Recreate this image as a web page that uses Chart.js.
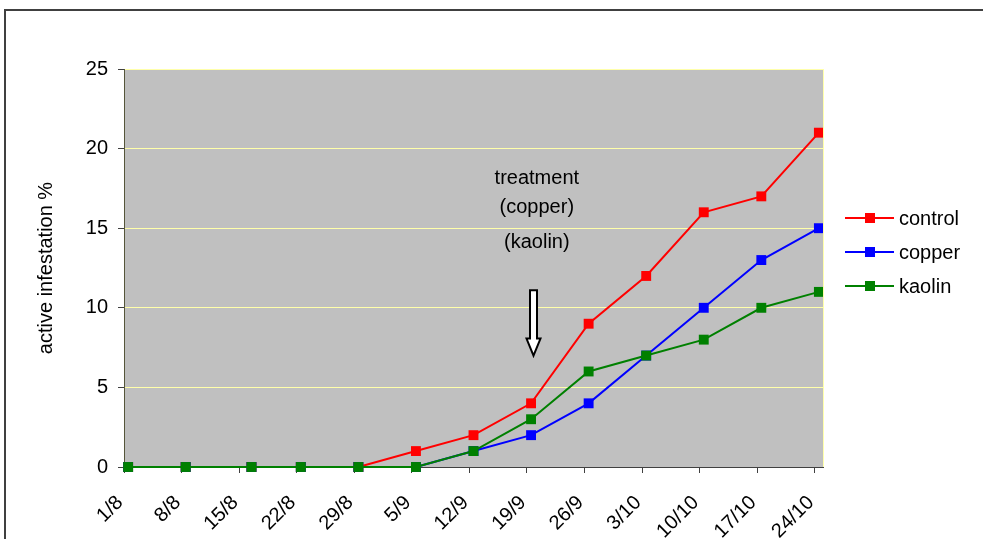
<!DOCTYPE html>
<html>
<head>
<meta charset="utf-8">
<script src="https://cdn.jsdelivr.net/npm/chart.js@4"></script>
<style>
  html, body { margin: 0; padding: 0; background: #fff; overflow: hidden; }
</style>
</head>
<body>
<canvas id="myChart" width="983" height="539"></canvas>
<script>
// weekly sampling dates, days counted from 1/8
var tickDays = [0, 7, 14, 21, 28, 35, 42, 49, 56, 63, 70, 77, 84];
var tickLabels = ['1/8', '8/8', '15/8', '22/8', '29/8', '5/9', '12/9', '19/9', '26/9', '3/10', '10/10', '17/10', '24/10'];
var sampleDays = [0.5, 7.5, 15.5, 21.5, 28.5, 35.5, 42.5, 49.5, 56.5, 63.5, 70.5, 77.5, 84.5];

var control = [0, 0, 0, 0, 0, 1, 2, 4, 9, 12, 16, 17, 21];
var copper  = [0, 0, 0, 0, 0, 0, 1, 2, 4, 7, 10, 13, 15];
var kaolin  = [0, 0, 0, 0, 0, 0, 1, 3, 6, 7, 8, 10, 11];

var seriesNames = ['control', 'copper', 'kaolin'];
var seriesColors = ['rgb(255, 0, 0)', 'rgb(0, 0, 255)', 'rgb(0, 128, 0)'];

// treatment note (x in days, y in %)
var noteLines = [['treatment', 50.2, 18.1], ['(copper)', 50.2, 16.3], ['(kaolin)', 50.2, 14.1]];
var arrowX = 49.7, arrowFrom = 11.1, arrowTo = 7.0;

var fontFamily = '"Liberation Sans", Arial, sans-serif';

function pts(values) {
    return values.map(function (v, i) { return { x: sampleDays[i], y: v }; });
}

const extras = {
    id: 'extras',
    beforeDraw(chart) {
        const ctx = chart.ctx, a = chart.chartArea;
        ctx.save();
        ctx.fillStyle = '#ffffff';
        ctx.fillRect(0, 0, chart.width, chart.height);
        ctx.strokeStyle = '#404040';
        ctx.lineWidth = 2;
        ctx.strokeRect(5, 10, chart.width + 20, chart.height + 20);
        ctx.fillStyle = 'rgb(192, 192, 192)';
        ctx.fillRect(a.left, a.top, a.right - a.left, a.bottom - a.top);
        ctx.restore();
    },
    afterDraw(chart) {
        const ctx = chart.ctx, a = chart.chartArea;
        const xs = chart.scales.x, ys = chart.scales.y;
        ctx.save();
        // right plot border
        ctx.strokeStyle = 'rgb(255, 255, 170)';
        ctx.lineWidth = 1;
        ctx.beginPath();
        ctx.moveTo(a.right + 0.5, a.top);
        ctx.lineTo(a.right + 0.5, a.bottom);
        ctx.stroke();

        // note text
        ctx.fillStyle = '#000';
        ctx.font = '20px ' + fontFamily;
        ctx.textAlign = 'center';
        ctx.textBaseline = 'middle';
        noteLines.forEach(function (n) {
            ctx.fillText(n[0], xs.getPixelForValue(n[1]), ys.getPixelForValue(n[2]));
        });

        // hollow arrow
        const ax = Math.round(xs.getPixelForValue(arrowX)) + 0.5;
        const y0 = ys.getPixelForValue(arrowFrom), y1 = ys.getPixelForValue(arrowTo);
        const hh = 17;
        ctx.beginPath();
        ctx.moveTo(ax - 3.5, y0);
        ctx.lineTo(ax + 3.5, y0);
        ctx.lineTo(ax + 3.5, y1 - hh);
        ctx.lineTo(ax + 7, y1 - hh);
        ctx.lineTo(ax, y1);
        ctx.lineTo(ax - 7, y1 - hh);
        ctx.lineTo(ax - 3.5, y1 - hh);
        ctx.closePath();
        ctx.fillStyle = '#fff';
        ctx.fill();
        ctx.strokeStyle = '#000';
        ctx.lineWidth = 2;
        ctx.stroke();

        // legend
        const lx = 845, ly = 218, step = 34;
        ctx.textAlign = 'left';
        seriesNames.forEach(function (name, i) {
            const y = ly + i * step;
            ctx.strokeStyle = seriesColors[i];
            ctx.lineWidth = 2;
            ctx.beginPath();
            ctx.moveTo(lx, y);
            ctx.lineTo(lx + 49, y);
            ctx.stroke();
            ctx.fillStyle = seriesColors[i];
            ctx.fillRect(lx + 20, y - 5, 10, 10);
            ctx.fillStyle = '#000';
            ctx.fillText(name, lx + 54, y + 1);
        });
        ctx.restore();
    }
};

const data = {
    datasets: [{
        label: 'control',
        data: pts(control),
        borderColor: seriesColors[0],
        backgroundColor: seriesColors[0],
        order: 3
    }, {
        label: 'copper',
        data: pts(copper),
        borderColor: seriesColors[1],
        backgroundColor: seriesColors[1],
        order: 2
    }, {
        label: 'kaolin',
        data: pts(kaolin),
        borderColor: seriesColors[2],
        backgroundColor: seriesColors[2],
        order: 1
    }]
};

const config = {
    type: 'line',
    data: data,
    options: {
        responsive: false,
        animation: false,
        devicePixelRatio: 1,
        layout: { padding: { top: 69, right: 160, left: 0, bottom: 0 } },
        elements: {
            line: { borderWidth: 2, tension: 0 },
            point: { pointStyle: 'rect', radius: 7, hoverRadius: 7, borderWidth: 0 }
        },
        datasets: { line: { clip: false } },
        plugins: { legend: { display: false }, tooltip: { enabled: false } },
        scales: {
            x: {
                type: 'linear',
                min: 0,
                max: 85,
                afterBuildTicks: function (scale) {
                    scale.ticks = tickDays.map(function (d) { return { value: d }; });
                },
                afterFit: function (scale) { scale.height = 72; },
                ticks: {
                    autoSkip: false,
                    minRotation: 45,
                    maxRotation: 45,
                    padding: 14,
                    color: '#000',
                    font: { family: fontFamily, size: 20 },
                    callback: function (v) {
                        var i = tickDays.indexOf(v);
                        // trailing space nudges the rotated label off the tick
                        return i >= 0 ? tickLabels[i] + ' ' : '';
                    }
                },
                grid: { drawOnChartArea: false, tickLength: 6, tickColor: '#404040', color: '#404040' },
                border: { color: '#404040', width: 1 }
            },
            y: {
                min: 0,
                max: 25,
                afterFit: function (scale) { scale.width = 124; },
                ticks: {
                    stepSize: 5,
                    padding: 10,
                    color: '#000',
                    font: { family: fontFamily, size: 20 }
                },
                grid: { color: 'rgb(255, 255, 170)', tickLength: 6, tickColor: '#404040' },
                border: { color: '#55553a', width: 1 },
                title: {
                    display: true,
                    text: 'active infestation %',
                    color: '#000',
                    padding: { top: 34, bottom: 0 },
                    font: { family: fontFamily, size: 20 }
                }
            }
        }
    },
    plugins: [extras]
};

const myChart = new Chart(document.getElementById('myChart'), config);
</script>
</body>
</html>
